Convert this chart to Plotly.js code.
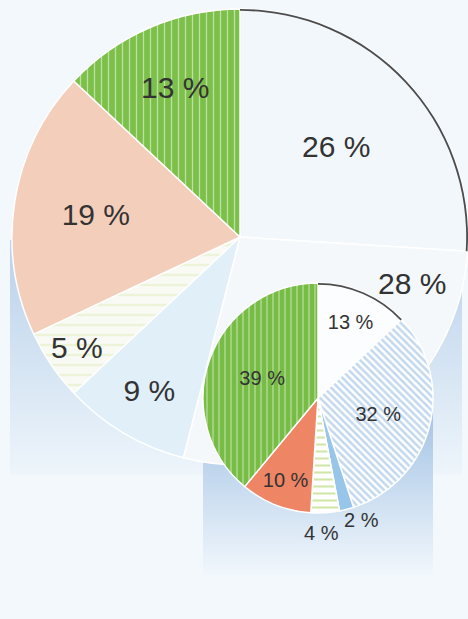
<!DOCTYPE html>
<html><head><meta charset="utf-8">
<script src="https://cdn.plot.ly/plotly-3.0.1.min.js"></script>
<style>html,body{margin:0;padding:0;background:#f3f8fc}#chart{width:468px;height:619px}</style>
</head><body><div id="chart"></div>
<script>
// ---- data ----
const bigLabels = ['Part A', 'Part B', 'Part C', 'Part D', 'Part E', 'Part F'];
const bigValues = [26, 28, 9, 5, 19, 13];
const smallLabels = ['Part a', 'Part b', 'Part c', 'Part d', 'Part e', 'Part f'];
const smallValues = [13, 32, 2, 4, 10, 39];

// ---- styles ----
const bigColors = ['#f2f7fc', '#f4f8fb', '#e0eff8', '#f8faf3', '#f3ceba', '#7cc04a'];
const bigShapes = ['', '', '', '-', '', '|'];
const bigFg = ['#ffffff', '#ffffff', '#ffffff', '#e1ecb9', '#ffffff', '#ffffff'];
const smallColors = ['#fbfdfe', '#ffffff', '#98c6ea', '#ffffff', '#ee8565', '#77bd45'];
const smallShapes = ['', '\\', '', '-', '', '|'];
const smallFg = ['#ffffff', '#86b1de', '#ffffff', '#a2cd50', '#ffffff', '#ffffff'];
const textColor = '#333333';
const fontFamily = 'Liberation Sans, Arial, sans-serif';
const W = 468, H = 619;

const bigBox = {cx: 240, cy: 237, r: 228};
const smallBox = {cx: 318, cy: 398, r: 115};
const dom = b => ({x: [(b.cx - b.r) / W, Math.min(1, (b.cx + b.r) / W)], y: [1 - (b.cy + b.r) / H, 1 - (b.cy - b.r) / H]});
const bigDomain = dom(bigBox);
const smallDomain = dom(smallBox);

const sum = a => a.reduce((s, v) => s + v, 0);
// labels placed by the library inside slices; a few are placed as annotations
const bigAnnotated = [1];
const smallAnnotated = [2, 3];
const bigText = bigValues.map((v, i) => bigAnnotated.includes(i) ? '' : v + ' %');
const smallText = smallValues.map((v, i) => smallAnnotated.includes(i) ? '' : v + ' %');

// bisector angle (clockwise from 12 o'clock) of slice i
function midAngle(values, i) {
  const tot = sum(values);
  const before = sum(values.slice(0, i));
  return (before + values[i] / 2) / tot * 2 * Math.PI;
}
function labelAt(box, values, i, rf, size, dAngle) {
  const a = midAngle(values, i) + (dAngle || 0);
  const px = box.cx + Math.sin(a) * box.r * rf;
  const py = box.cy - Math.cos(a) * box.r * rf;
  return {text: values[i] + ' %', xref: 'paper', yref: 'paper', x: px / W, y: 1 - py / H,
    xanchor: 'center', yanchor: 'middle', showarrow: false,
    font: {size: size, color: textColor, family: fontFamily}};
}

const traces = [
  {
    type: 'pie', labels: bigLabels, values: bigValues, sort: false, direction: 'clockwise', rotation: 0,
    domain: bigDomain, text: bigText, textinfo: 'text', textposition: 'inside',
    insidetextorientation: 'horizontal',
    textfont: {size: 30, color: textColor, family: fontFamily},
    marker: {colors: bigColors, line: {color: '#ffffff', width: 1.5},
      pattern: {shape: bigShapes, fgcolor: bigFg, fillmode: 'overlay', size: [8, 8, 8, 10, 8, 7], solidity: [0.2, 0.2, 0.2, 0.22, 0.2, 0.18]}},
    hoverinfo: 'skip', showlegend: false
  },
  {
    type: 'pie', labels: ['arc', 'rest'], values: [bigValues[0], sum(bigValues) - bigValues[0]], sort: false,
    direction: 'clockwise', rotation: 0, domain: bigDomain, hole: 0.992, textinfo: 'none',
    marker: {colors: ['#4d4d4d', 'rgba(0,0,0,0)'], line: {width: 0}}, hoverinfo: 'skip', showlegend: false
  },
  {
    type: 'pie', labels: smallLabels, values: smallValues, sort: false, direction: 'clockwise', rotation: 0,
    domain: smallDomain, text: smallText, textinfo: 'text', textposition: 'inside',
    insidetextorientation: 'horizontal',
    textfont: {size: 20, color: textColor, family: fontFamily},
    marker: {colors: smallColors, line: {color: '#ffffff', width: 1.5},
      pattern: {shape: smallShapes, fgcolor: smallFg, fillmode: 'overlay', size: [6, 5, 6, 7, 6, 6], solidity: [0.2, 0.5, 0.2, 0.3, 0.2, 0.2]}},
    hoverinfo: 'skip', showlegend: false
  },
  {
    type: 'pie', labels: ['arc', 'rest'], values: [smallValues[0], sum(smallValues) - smallValues[0]], sort: false,
    direction: 'clockwise', rotation: 0, domain: smallDomain, hole: 0.985, textinfo: 'none',
    marker: {colors: ['#4d4d4d', 'rgba(0,0,0,0)'], line: {width: 0}}, hoverinfo: 'skip', showlegend: false
  }
];

const bgSvg = "<svg xmlns='http://www.w3.org/2000/svg' width='468' height='619'>" +
  "<defs>" +
  "<linearGradient id='g1' x1='0' y1='0' x2='0' y2='1'><stop offset='0' stop-color='#b9d1ea'/><stop offset='1' stop-color='#eef5fb'/></linearGradient>" +
  "<linearGradient id='g2' x1='0' y1='0' x2='0' y2='1'><stop offset='0' stop-color='#9fc0e3'/><stop offset='1' stop-color='#f1f7fc'/></linearGradient>" +
  "</defs>" +
  "<rect width='468' height='619' fill='#f3f8fc'/>" +
  "<rect x='10' y='240' width='452' height='235' fill='url(#g1)'/>" +
  "<rect x='203' y='400' width='230' height='175' fill='url(#g2)'/>" +
  "</svg>";

const layout = {
  width: W, height: H, margin: {l: 0, r: 0, t: 0, b: 0},
  paper_bgcolor: '#f3f8fc', showlegend: false, hovermode: false,
  images: [{source: 'data:image/svg+xml;charset=utf-8,' + encodeURIComponent(bgSvg),
    xref: 'paper', yref: 'paper', x: 0, y: 1, sizex: 1, sizey: 1,
    xanchor: 'left', yanchor: 'top', sizing: 'stretch', layer: 'below'}],
  annotations: [
    labelAt(bigBox, bigValues, 1, 0.78, 30, -0.68),
    labelAt(smallBox, smallValues, 2, 1.13, 20, -0.09),
    labelAt(smallBox, smallValues, 3, 1.17, 20, 0.04)
  ]
};

Plotly.newPlot('chart', traces, layout, {displayModeBar: false, staticPlot: true});
</script>
</body></html>
